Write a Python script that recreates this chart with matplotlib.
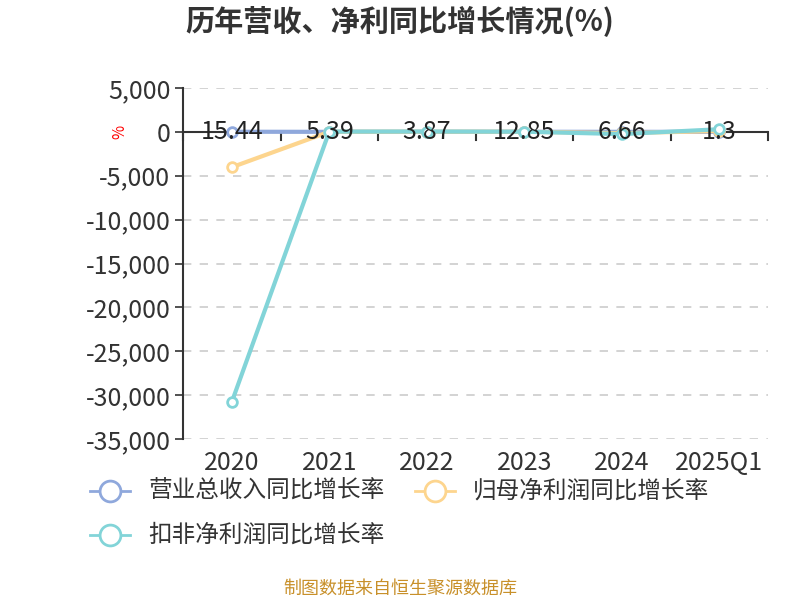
import matplotlib
matplotlib.use("Agg")
import matplotlib.pyplot as plt
from matplotlib.lines import Line2D
from matplotlib.ticker import FuncFormatter

plt.rcParams['font.family'] = ['Noto Sans CJK SC', 'DejaVu Sans']

categories = ["2020", "2021", "2022", "2023", "2024", "2025Q1"]
revenue_growth = [15.44, 5.39, 3.87, 12.85, 6.66, 1.3]
parent_profit_growth = [-4030, 10, 20, 15, -150, 100]
deducted_profit_growth = [-30800, 30, 40, 20, -250, 300]
series_names = ["营业总收入同比增长率", "归母净利润同比增长率", "扣非净利润同比增长率"]
colors = ["#8fa8dc", "#fdd58e", "#82d4d8"]
yticks = [5000, 0, -5000, -10000, -15000, -20000, -25000, -30000, -35000]

fig = plt.figure(figsize=(8, 6), dpi=100)
ax = fig.add_axes([183/800, 1-439/600, 585/800, 351/600])

x = list(range(len(categories)))
for vals, c in zip([revenue_growth, parent_profit_growth, deducted_profit_growth], colors):
    ax.plot(x, vals, color=c, lw=3, marker='o', ms=7, mfc='white', mec=c, mew=2, zorder=3)

for xi, v in zip(x, revenue_growth):
    ax.text(xi, v, f"{v:g}", ha='center', va='center', fontsize=18, color='#222222', zorder=5)

ax.set_xlim(-0.5, len(categories)-0.5)
ax.set_ylim(-35000, 5000)
ax.set_yticks(yticks)
ax.yaxis.set_major_formatter(FuncFormatter(lambda v, p: f"{int(v):,}"))
ax.set_xticks(x)
ax.set_xticklabels(categories)
ax.tick_params(axis='x', length=0, pad=8, labelsize=18, colors='#333333')
ax.tick_params(axis='y', length=6, width=1.2, labelsize=18, colors='#333333', pad=3)
for lab in ax.get_yticklabels() + ax.get_xticklabels():
    lab.set_color('#333333')

for sp in ['top', 'right', 'bottom']:
    ax.spines[sp].set_visible(False)
ax.spines['left'].set_color('#333333')
ax.spines['left'].set_linewidth(1.5)
ax.yaxis.grid(True, linestyle=(0, (5, 5)), color='#cccccc', lw=1.2)
ax.set_axisbelow(True)

# zero axis line with ticks at category boundaries
ax.axhline(0, color='#333333', lw=1.5, zorder=2)
for b in [i - 0.5 for i in range(len(categories)+1)]:
    ax.plot([b, b], [0, -900], color='#333333', lw=1.5, zorder=2, clip_on=False)

fig.text(120/800, 1-132/600, "%", color='red', fontsize=11, rotation=90, ha='center', va='center')

fig.text(0.5, 1-22/600, "历年营收、净利同比增长情况(%)", ha='center', va='center',
         fontsize=21, fontweight='bold', color='#333333')

# legend
leg_items = [(90, 491, 0), (415, 491, 1), (90, 535, 2)]
for lx, ly, i in leg_items:
    yy = 1 - ly/600
    fig.add_artist(Line2D([lx/800, (lx+40)/800], [yy, yy], color=colors[i], lw=2))
    fig.add_artist(Line2D([(lx+20)/800], [yy], marker='o', ms=15, mfc='white', mec=colors[i], mew=2, ls=''))
    fig.text((lx+58)/800, yy, series_names[i], ha='left', va='center', fontsize=17, color='#333333')

fig.text(0.5, 1-589/600, "制图数据来自恒生聚源数据库", ha='center', va='center', fontsize=13, color='#c8902a')

fig.savefig("out.png", dpi=100)
